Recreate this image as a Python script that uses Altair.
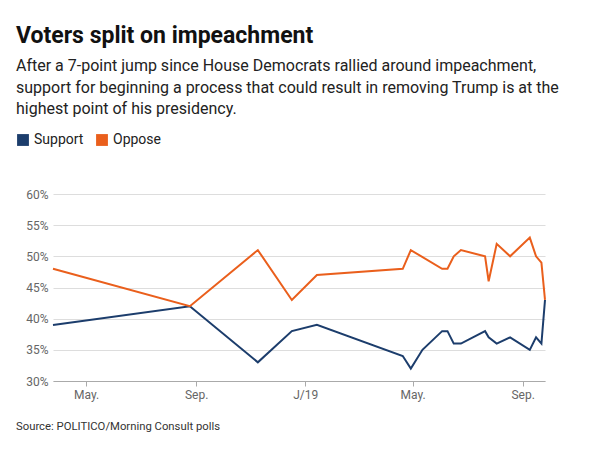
import altair as alt
import pandas as pd

# ---- data ----
oppose_dates = ["2018-03-25", "2018-08-25", "2018-11-09", "2018-12-17", "2019-01-14",
                "2019-04-20", "2019-04-29", "2019-06-03", "2019-06-09", "2019-06-16",
                "2019-06-24", "2019-07-21", "2019-07-25", "2019-08-03", "2019-08-18",
                "2019-09-09", "2019-09-16", "2019-09-22", "2019-09-26"]
oppose_values = [48, 42, 51, 43, 47, 48, 51, 48, 48, 50, 51, 50, 46, 52, 50, 53, 50, 49, 43]

support_dates = ["2018-03-25", "2018-08-25", "2018-11-09", "2018-12-17", "2019-01-14",
                 "2019-04-20", "2019-04-29", "2019-05-12", "2019-06-03", "2019-06-09",
                 "2019-06-16", "2019-06-24", "2019-07-21", "2019-07-25", "2019-08-03",
                 "2019-08-18", "2019-09-09", "2019-09-16", "2019-09-22", "2019-09-26"]
support_values = [39, 42, 33, 38, 39, 34, 32, 35, 38, 38, 36, 36, 38, 37, 36, 37, 35, 37, 36, 43]

series_names = ["Support", "Oppose"]
series_colors = ["#1c3d6c", "#ea5f1c"]
y_ticks = [30, 35, 40, 45, 50, 55, 60]

title_text = "Voters split on impeachment"
subtitle_lines = [
    "After a 7-point jump since House Democrats rallied around impeachment,",
    "support for beginning a process that could result in removing Trump is at the",
    "highest point of his presidency.",
]
source_text = "Source: POLITICO/Morning Consult polls"

df = pd.concat([
    pd.DataFrame({"date": support_dates, "value": support_values, "series": "Support"}),
    pd.DataFrame({"date": oppose_dates, "value": oppose_values, "series": "Oppose"}),
])

W, H = 492, 187
FONT = "Roboto"

x_ticks = [alt.DateTime(year=2018, month=5, date=1), alt.DateTime(year=2018, month=9, date=1),
           alt.DateTime(year=2019, month=1, date=1), alt.DateTime(year=2019, month=5, date=1),
           alt.DateTime(year=2019, month=9, date=1)]

x_enc = alt.X("date:T", title=None,
              scale=alt.Scale(nice=False),
              axis=alt.Axis(values=x_ticks, grid=False, domainColor="#aaaaaa", tickColor="#aaaaaa",
                            tickSize=5, labelColor="#666666", labelFontSize=12, labelFont=FONT,
                            labelPadding=3,
                            labelExpr="month(datum.value) == 0 ? 'J/' + timeFormat(datum.value, '%y') : timeFormat(datum.value, '%b') + '.'"))
y_enc = alt.Y("value:Q", title=None,
              scale=alt.Scale(domain=[30, 60], nice=False, zero=False),
              axis=alt.Axis(values=y_ticks, domain=False, ticks=False, gridColor="#dddddd",
                            labelColor="#666666", labelFontSize=12, labelFont=FONT, labelPadding=5,
                            labelExpr="datum.value + '%'"))
color_scale = alt.Scale(domain=series_names, range=series_colors)

lines = alt.Chart(df).mark_line(strokeWidth=2).encode(
    x=x_enc, y=y_enc,
    color=alt.Color("series:N", scale=color_scale, legend=None),
)

# invisible squares that only carry the filled-square legend
legend_layer = alt.Chart(df).mark_square(opacity=0, filled=True).encode(
    x=x_enc, y=y_enc,
    color=alt.Color("series:N", scale=color_scale,
                    legend=alt.Legend(title=None, orient="none", direction="horizontal",
                                      legendX=-37, legendY=-61, symbolType="square",
                                      symbolSize=140, symbolStrokeWidth=0, symbolOpacity=1,
                                      labelFontSize=14, labelFont=FONT, labelColor="#222222",
                                      columnPadding=11, labelOffset=4)),
)

source = alt.Chart(pd.DataFrame({"t": [source_text]})).mark_text(
    align="left", baseline="middle", fontSize=11.3, font=FONT, color="#333333"
).encode(x=alt.value(-37), y=alt.value(233), text="t:N")

chart = alt.layer(lines, legend_layer, source).resolve_scale(color="independent").properties(
    width=W, height=H,
    autosize=alt.AutoSizeParams(type="none"),
    padding={"left": 45, "top": 186, "right": 40, "bottom": 70},
    title=alt.TitleParams(
        text=title_text, subtitle=subtitle_lines, anchor="start", frame="group", dx=-37,
        font=FONT, fontSize=23, fontWeight="bold", color="#111111",
        subtitleFont=FONT, subtitleFontSize=16, subtitleColor="#222222",
        subtitleLineHeight=21.5, subtitlePadding=10, offset=16,
    ),
).configure_view(stroke=None)

chart.save("out.html", embed_options={"renderer": "svg", "actions": False})
